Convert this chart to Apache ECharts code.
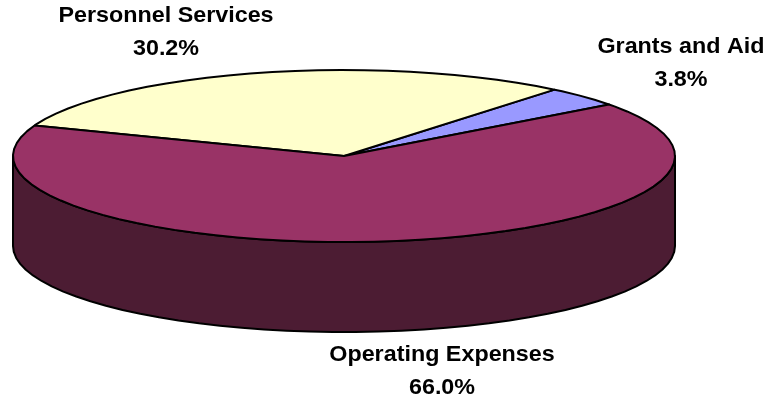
<!DOCTYPE html>
<html>
<head>
<meta charset="utf-8">
<style>html,body{margin:0;padding:0;background:#fff}#chart{width:766px;height:398px}</style>
<script src="https://cdn.jsdelivr.net/npm/echarts@6/dist/echarts.min.js"></script>
</head>
<body>
<div id="chart"></div>
<script>
// Budget shares, listed counter-clockwise from the first wedge edge.
const categories = ['Grants and Aid', 'Personnel Services', 'Operating Expenses'];
const shares = [3.8, 30.2, 66.0];
const topColors = ['#9999FF', '#FFFFCC', '#993366'];
const wallColors = ['#4C4C80', '#808066', '#4C1C33'];

// Disc geometry, in pixels and degrees.
const disc = { cx: 344, cy: 156, rx: 331, ry: 86, depth: 90, firstAngle: 36.8, step: 4 };
// Label centres (x, first-line middle y).
const labelAnchors = [[681, 46], [166, 15], [442, 354]];

const toPoint = (deg, dy) => {
  const r = deg * Math.PI / 180;
  return [disc.cx + disc.rx * Math.cos(r), disc.cy - disc.ry * Math.sin(r) + dy];
};

// Points along the rim between two angles, always hitting both ends.
const arc = (from, to, dy) => {
  const pts = [];
  for (let a = from; a < to; a += disc.step) pts.push(toPoint(a, dy));
  pts.push(toPoint(to, dy));
  return pts;
};

const total = shares.reduce((s, v) => s + v, 0);

// Outer wall for whatever part of a wedge faces the viewer (180..360 and 540..720 degrees).
function wallParts(start, end, fill) {
  const parts = [];
  [[180, 360], [540, 720]].forEach(([lo, hi]) => {
    const a = Math.max(start, lo), b = Math.min(end, hi);
    if (b > a) {
      const points = arc(a, b, 0).concat(arc(a, b, disc.depth).reverse());
      parts.push({
        type: 'polygon',
        shape: { points },
        style: { fill, stroke: '#000', lineWidth: 2, lineJoin: 'round' }
      });
    }
  });
  return parts;
}

function renderWedge(params, api) {
  const i = params.dataIndex;
  let before = 0;
  for (let k = 0; k < i; k++) before += shares[k];
  const start = disc.firstAngle + before / total * 360;
  const end = start + api.value(0) / total * 360;
  const top = [[disc.cx, disc.cy]].concat(arc(start, end, 0));
  const children = wallParts(start, end, wallColors[i]);
  children.push({
    type: 'polygon',
    shape: { points: top },
    style: { fill: topColors[i], stroke: '#000', lineWidth: 2, lineJoin: 'round' }
  });
  const [lx, ly] = labelAnchors[i];
  children.push({
    type: 'text',
    x: lx,
    y: ly - 16,
    scaleX: 1.06,
    style: {
      text: categories[i] + '\n' + api.value(0).toFixed(1) + '%',
      x: 0,
      y: 0,
      align: 'center',
      verticalAlign: 'top',
      font: 'bold 22px "Liberation Sans", Arial, sans-serif',
      lineHeight: 33,
      fill: '#000'
    }
  });
  return { type: 'group', children };
}

const chart = echarts.init(document.getElementById('chart'), null, { renderer: 'canvas' });
chart.setOption({
  animation: false,
  backgroundColor: '#fff',
  series: [{
    type: 'custom',
    coordinateSystem: 'none',
    silent: true,
    renderItem: renderWedge,
    data: shares.map(v => [v])
  }]
});
</script>
</body>
</html>
